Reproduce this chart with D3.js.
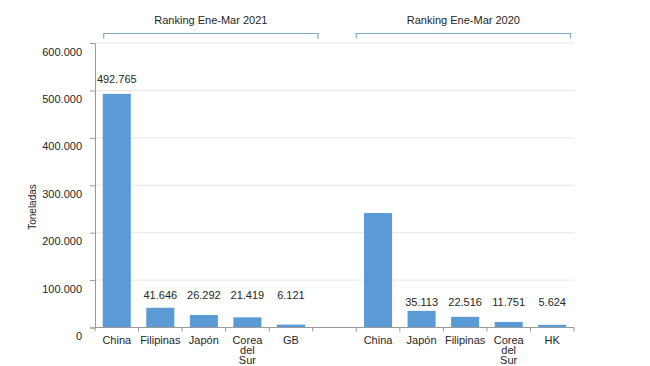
<html>
<head>
    <meta charset="utf-8">
    <title>Ranking Ene-Mar</title>
    <script src="https://d3js.org/d3.v7.min.js"></script>
    <style>
        body { margin: 0; background: #fff; }
        text { font-family: "Liberation Sans", Arial, sans-serif; font-size: 11px; fill: #262626; }
    </style>
</head>
<body>
    <svg id="chart"></svg>
    <script>
        // data
        var titles = ["Ranking Ene-Mar 2021", "Ranking Ene-Mar 2020"];
        var countries2021 = ["China", "Filipinas", "Japón", "Corea del Sur", "GB"];
        var values2021 = [492765, 41646, 26292, 21419, 6121];
        var countries2020 = ["China", "Japón", "Filipinas", "Corea del Sur", "HK"];
        var values2020 = [241500, 35113, 22516, 11751, 5624];
        var labels2020 = [null, "35.113", "22.516", "11.751", "5.624"];
        var yTicks = [0, 100000, 200000, 300000, 400000, 500000, 600000];

        var width = 650, height = 366;
        var plotLeft = 95, plotRight = 574, plotTop = 43, plotBottom = 327.5;
        var svg = d3.select("#chart").attr("width", width).attr("height", height);

        var es = d3.formatLocale({ decimal: ",", thousands: ".", grouping: [3], currency: ["", ""] });
        var fmt = es.format(",d");

        var rows = [];
        countries2021.forEach(function (c, i) {
            rows.push({ key: "a" + i, group: 0, name: c, value: values2021[i], label: fmt(values2021[i]) });
        });
        rows.push({ key: "gap", group: -1 });
        countries2020.forEach(function (c, i) {
            rows.push({ key: "b" + i, group: 1, name: c, value: values2020[i], label: labels2020[i] });
        });

        var x = d3.scaleBand().domain(rows.map(function (d) { return d.key; }))
            .range([plotLeft, plotRight]).paddingInner(0.356).paddingOuter(0.178);
        var y = d3.scaleLinear().domain([0, 600000]).range([plotBottom, plotTop]);
        var step = x.step(), half = step * x.paddingInner() / 2;

        // gridlines
        svg.append("g").selectAll("line").data(yTicks.slice(1)).enter().append("line")
            .attr("x1", plotLeft).attr("x2", plotRight)
            .attr("y1", function (d) { return y(d); }).attr("y2", function (d) { return y(d); })
            .attr("stroke", "#e6e6e6").attr("stroke-width", 1);

        // y axis
        var yAxis = svg.append("g").attr("transform", "translate(" + plotLeft + ",0)")
            .call(d3.axisLeft(y).tickValues(yTicks).tickFormat(fmt).tickSizeOuter(0).tickSize(5).tickPadding(8));
        yAxis.selectAll("path, line").attr("stroke", "#9a9a9a");
        yAxis.selectAll("text").attr("dy", "1.1em").style("font-size", "11px").style("fill", "#262626")
            .style("font-family", "'Liberation Sans', Arial, sans-serif");

        // bars
        var bars = rows.filter(function (d) { return d.group >= 0; });
        svg.append("g").selectAll("rect").data(bars).enter().append("rect")
            .attr("x", function (d) { return x(d.key); })
            .attr("width", x.bandwidth())
            .attr("y", function (d) { return y(d.value); })
            .attr("height", function (d) { return plotBottom - y(d.value); })
            .attr("fill", "#5b9bd5");

        // x axis baseline and ticks at slot boundaries
        svg.append("line").attr("x1", plotLeft).attr("x2", plotRight).attr("y1", plotBottom).attr("y2", plotBottom)
            .attr("stroke", "#9a9a9a");
        var bounds = rows.map(function (d) { return x(d.key) - half; }).concat([plotRight]);
        svg.append("g").selectAll("line").data(bounds).enter().append("line")
            .attr("x1", function (d) { return d; }).attr("x2", function (d) { return d; })
            .attr("y1", plotBottom).attr("y2", plotBottom + 4).attr("stroke", "#9a9a9a");

        // category labels
        var cat = svg.append("g").selectAll("text").data(bars).enter().append("text")
            .attr("text-anchor", "middle")
            .attr("x", function (d) { return x(d.key) + x.bandwidth() / 2; })
            .attr("y", plotBottom + 16);
        cat.each(function (d) {
            var words = d.name.split(" ");
            var t = d3.select(this);
            words.forEach(function (w, i) {
                t.append("tspan").attr("x", x(d.key) + x.bandwidth() / 2).attr("dy", i === 0 ? 0 : 10).text(w);
            });
        });

        // value labels: the big bar sits just above its top, the small ones share a line per group
        var groupSmallMax = [0, 1].map(function (g) {
            return d3.max(bars.filter(function (d) { return d.group === g && d.key.slice(1) !== "0"; }), function (d) { return d.value; });
        });
        svg.append("g").selectAll("text").data(bars.filter(function (d) { return d.label; })).enter().append("text")
            .attr("text-anchor", "middle")
            .attr("x", function (d) { return x(d.key) + x.bandwidth() / 2; })
            .attr("y", function (d) {
                if (d.key.slice(1) === "0") return y(d.value) - 11;
                return y(groupSmallMax[d.group]) - (d.group === 0 ? 9 : 5);
            })
            .text(function (d) { return d.label; });

        // brackets with titles
        [0, 1].forEach(function (g) {
            var keys = bars.filter(function (d) { return d.group === g; });
            var x0 = g === 0 ? x(keys[0].key) + 1 : x(keys[0].key) - half;
            var x1 = x0 + keys.length * step - 3.5;
            svg.append("path")
                .attr("d", "M" + x0 + "," + 38.5 + "V" + 33.5 + "H" + x1 + "V" + 38.5)
                .attr("fill", "none").attr("stroke", "#7fa7bf").attr("stroke-width", 1.2);
            svg.append("text").attr("text-anchor", "middle")
                .attr("x", (x0 + x1) / 2).attr("y", 24).text(titles[g]);
        });

        // y axis title
        svg.append("text").attr("text-anchor", "middle")
            .attr("transform", "translate(36,207) rotate(-90)")
            .style("font-size", "10px")
            .text("Toneladas");
    </script>
</body>
</html>
